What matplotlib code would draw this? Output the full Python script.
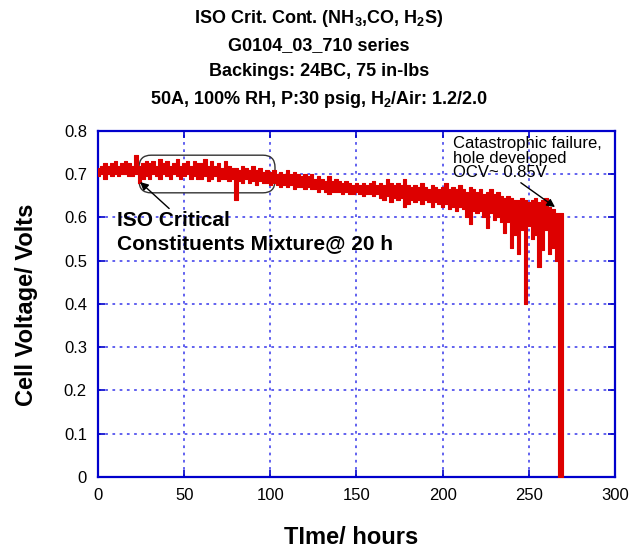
import matplotlib.pyplot as plt
from matplotlib.patches import FancyBboxPatch

plt.rcParams['font.family'] = ['Liberation Sans', 'DejaVu Sans']
plt.rcParams['mathtext.fontset'] = 'custom'
plt.rcParams['mathtext.rm'] = 'Liberation Sans:bold'
plt.rcParams['mathtext.default'] = 'rm'

# the trace is a dense noisy band: low / high cell voltage every 2 h
hours = list(range(0, 272, 2))
v_high = [0.715, 0.72, 0.725, 0.72, 0.725, 0.73, 0.72, 0.725, 0.73, 0.725,
          0.72, 0.745, 0.72, 0.725, 0.73, 0.725, 0.73, 0.72, 0.735, 0.725,
          0.73, 0.72, 0.725, 0.735, 0.72, 0.725, 0.73, 0.72, 0.73, 0.725,
          0.725, 0.735, 0.72, 0.73, 0.72, 0.725, 0.715, 0.73, 0.72, 0.715,
          0.715, 0.71, 0.72, 0.715, 0.71, 0.72, 0.71, 0.715, 0.705, 0.71,
          0.705, 0.71, 0.70, 0.705, 0.70, 0.71, 0.70, 0.705, 0.70, 0.695,
          0.70, 0.695, 0.70, 0.69, 0.695, 0.69, 0.685, 0.695, 0.685, 0.69,
          0.685, 0.68, 0.685, 0.68, 0.675, 0.68, 0.675, 0.68, 0.675, 0.68,
          0.685, 0.675, 0.68, 0.675, 0.69, 0.68, 0.675, 0.68, 0.675, 0.69,
          0.675, 0.67, 0.675, 0.67, 0.68, 0.67, 0.665, 0.675, 0.67, 0.665,
          0.67, 0.68, 0.665, 0.67, 0.665, 0.675, 0.665, 0.66, 0.67, 0.665,
          0.66, 0.665, 0.655, 0.66, 0.665, 0.655, 0.66, 0.65, 0.645, 0.65,
          0.645, 0.64, 0.64, 0.645, 0.64, 0.635, 0.64, 0.645, 0.635, 0.64,
          0.645, 0.625, 0.62, 0.61, 0.61, 0.61]
v_low = [0.695, 0.70, 0.69, 0.70, 0.695, 0.70, 0.695, 0.70, 0.70, 0.695,
         0.695, 0.70, 0.68, 0.69, 0.695, 0.69, 0.70, 0.695, 0.69, 0.70,
         0.695, 0.69, 0.70, 0.695, 0.69, 0.695, 0.70, 0.69, 0.695, 0.69,
         0.69, 0.695, 0.685, 0.69, 0.695, 0.685, 0.69, 0.69, 0.685, 0.69,
         0.64, 0.685, 0.68, 0.69, 0.68, 0.685, 0.675, 0.685, 0.68, 0.68,
         0.675, 0.68, 0.675, 0.67, 0.675, 0.67, 0.675, 0.665, 0.67, 0.67,
         0.665, 0.67, 0.665, 0.665, 0.66, 0.665, 0.66, 0.655, 0.66, 0.66,
         0.66, 0.655, 0.66, 0.655, 0.655, 0.66, 0.655, 0.65, 0.655, 0.655,
         0.65, 0.655, 0.645, 0.64, 0.65, 0.635, 0.645, 0.64, 0.645, 0.625,
         0.63, 0.64, 0.635, 0.64, 0.63, 0.64, 0.635, 0.625, 0.635, 0.63,
         0.625, 0.63, 0.62, 0.625, 0.615, 0.625, 0.62, 0.60, 0.585, 0.615,
         0.61, 0.615, 0.60, 0.575, 0.61, 0.595, 0.60, 0.59, 0.565, 0.59,
         0.53, 0.56, 0.515, 0.57, 0.40, 0.58, 0.55, 0.56, 0.485, 0.525,
         0.57, 0.515, 0.53, 0.50, 0.0, 0.0]

fig = plt.figure(figsize=(6.39, 5.48), dpi=100)
ax = fig.add_axes([0.1534, 0.1296, 0.809, 0.6314])

blue = '#0000cc'
red = '#dd0000'
box = FancyBboxPatch((23.8, 0.657), 78.9, 0.087, boxstyle='round,pad=0,rounding_size=7',
                     mutation_aspect=0.004, fc='none', ec='#333333', lw=1, zorder=2)
ax.add_patch(box)
ax.fill_between(hours, v_low, v_high, step='mid', color=red, ec=red, lw=0.8, zorder=3)

ax.set_xlim(0, 300)
ax.set_ylim(0, 0.8)
ax.set_xticks([0, 50, 100, 150, 200, 250, 300])
ax.set_yticks([0, 0.1, 0.2, 0.3, 0.4, 0.5, 0.6, 0.7, 0.8])
ax.set_yticklabels(['0', '0.1', '0.2', '0.3', '0.4', '0.5', '0.6', '0.7', '0.8'])
ax.grid(True, color='#5555ee', lw=1.3, linestyle=(0, (1.5, 2.5)), zorder=1)
ax.set_axisbelow(True)
ax.tick_params(direction='in', length=5, width=1.2, color=blue, labelsize=12,
               top=True, right=True, pad=8)
for s in ax.spines.values():
    s.set_color(blue)
    s.set_linewidth(1.6)

ax.annotate('ISO Critical\nConstituents Mixture@ 20 h', xy=(24.4, 0.682), xytext=(11, 0.527),
            fontsize=15, fontweight='bold', ha='left', va='baseline', linespacing=1.25,
            arrowprops=dict(arrowstyle='-|>', color='black', lw=1, mutation_scale=12,
                            shrinkA=0, shrinkB=0, relpos=(0.2, 1.0)), zorder=4)
ax.annotate('Catastrophic failure,\nhole developed\nOCV~ 0.85V', xy=(265.2, 0.624), xytext=(206, 0.788),
            fontsize=12, ha='left', va='top', linespacing=0.95,
            arrowprops=dict(arrowstyle='-|>', color='black', lw=1, mutation_scale=12,
                            shrinkA=0, shrinkB=0, relpos=(0.43, 0.0)), zorder=4)

title_lines = ['ISO Crit. Cont. (NH$_3$,CO, H$_2$S)', 'G0104_03_710 series',
               'Backings: 24BC, 75 in-lbs', '50A, 100% RH, P:30 psig, H$_2$/Air: 1.2/2.0']
title_y = [0.967, 0.917, 0.869, 0.819]
for txt, y in zip(title_lines, title_y):
    fig.text(0.4992, y, txt, ha='center', va='center', fontsize=13, fontweight='bold')

fig.text(0.042, 0.443, 'Cell Voltage/ Volts', rotation=90, ha='center', va='center',
         fontsize=17, fontweight='bold')
fig.text(0.55, 0.02, 'TIme/ hours', ha='center', va='center', fontsize=17, fontweight='bold')

fig.savefig('out.png', dpi=100)
